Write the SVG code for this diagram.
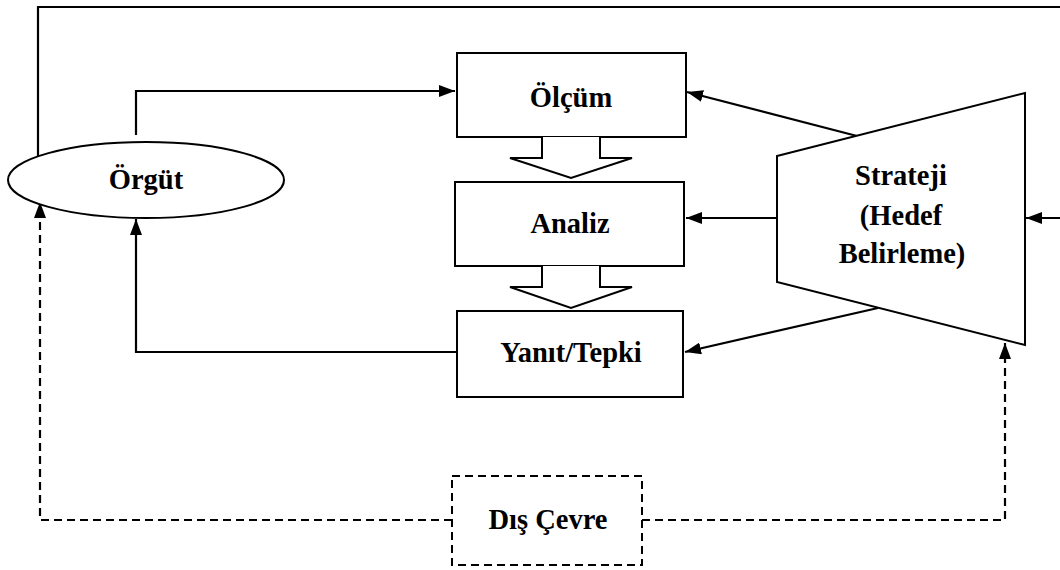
<svg xmlns="http://www.w3.org/2000/svg" width="1060" height="570" viewBox="0 0 1060 570">
  <style>
    .shape { fill: #ffffff; stroke: #000000; stroke-width: 2; }
    .dash { fill: #ffffff; stroke: #000000; stroke-width: 2; stroke-dasharray: 8 5; }
    .wire { fill: none; stroke: #000000; stroke-width: 2.2; }
    .wire-dash { fill: none; stroke: #000000; stroke-width: 2.2; stroke-dasharray: 8 5; }
    .label { font-family: "Liberation Serif", "Times New Roman", serif; font-weight: bold; font-size: 28.5px; fill: #000000; text-anchor: middle; }
  </style>
  <defs>
    <marker id="head" viewBox="0 0 16 12" refX="16" refY="6" markerWidth="16" markerHeight="12" markerUnits="userSpaceOnUse" orient="auto">
      <path d="M0,0 L16,6 L0,12 Z" fill="#000000"/>
    </marker>
  </defs>

  <rect width="1060" height="570" fill="#ffffff"/>

  <!-- connectors -->
  <g id="connectors">
    <path class="wire" d="M38,156 L38,7 L1060,7"/>
    <path class="wire" d="M136,135 L136,91 L455,91" marker-end="url(#head)"/>
    <path class="wire" d="M457,352 L136,352 L136,219" marker-end="url(#head)"/>
    <path class="wire" d="M857,136 L687,92" marker-end="url(#head)"/>
    <path class="wire" d="M777,218 L686,218" marker-end="url(#head)"/>
    <path class="wire" d="M878,308 L685,352" marker-end="url(#head)"/>
    <path class="wire" d="M1060,218 L1026,218" marker-end="url(#head)"/>
    <path class="wire-dash" d="M452,520 L40,520 L40,202" marker-end="url(#head)"/>
    <path class="wire-dash" d="M642,520 L1005,520 L1005,343" marker-end="url(#head)"/>
  </g>

  <!-- nodes -->
  <g id="orgut">
    <ellipse class="shape" cx="146" cy="180" rx="138" ry="38"/>
    <text class="label" x="146" y="189">Örgüt</text>
  </g>

  <g id="olcum">
    <rect class="shape" x="457" y="53" width="229" height="84"/>
    <text class="label" x="571" y="107">Ölçüm</text>
  </g>

  <g id="flow-olcum-analiz">
    <path class="shape" d="M542,137 L542,158 L510,158 L571,178 L632,158 L600,158 L600,137"/>
  </g>

  <g id="analiz">
    <rect class="shape" x="455" y="182" width="229" height="84"/>
    <text class="label" x="570" y="233">Analiz</text>
  </g>

  <g id="flow-analiz-yanit">
    <path class="shape" d="M542,266 L542,287 L510,287 L571,308 L632,287 L600,287 L600,266"/>
  </g>

  <g id="yanit">
    <rect class="shape" x="457" y="311" width="226" height="86"/>
    <text class="label" x="571" y="362">Yanıt/Tepki</text>
  </g>

  <g id="strateji">
    <path class="shape" d="M777,156 L1025,93 L1025,345 L777,282 Z"/>
    <text class="label" x="901" y="185">Strateji</text>
    <text class="label" x="901" y="225">(Hedef</text>
    <text class="label" x="902" y="263">Belirleme)</text>
  </g>

  <g id="dis-cevre">
    <rect class="dash" x="452" y="476" width="190" height="89"/>
    <text class="label" x="548" y="529">Dış Çevre</text>
  </g>
</svg>
